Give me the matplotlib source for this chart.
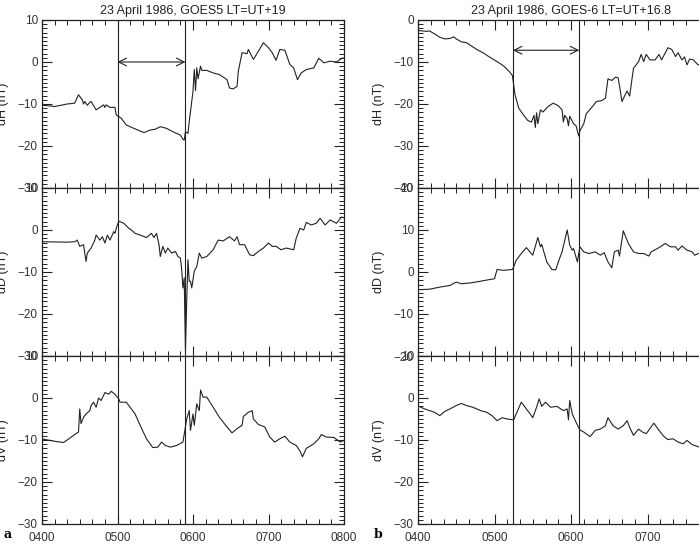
import matplotlib
matplotlib.use("Agg")
import matplotlib.pyplot as plt
from matplotlib.ticker import MultipleLocator, FixedLocator

plt.rcParams['font.family'] = ['Liberation Sans', 'DejaVu Sans']

# minutes after 0400 UT, values in nT
# --- panel a: GOES5 ---
a_dh_t = [1, 10, 20, 26, 29, 32, 33, 34, 36, 38, 39, 41, 43, 46, 49, 50, 51, 54, 58, 59,
          63, 67, 73, 81, 86, 90, 94, 99, 104, 110, 112, 113, 114, 116, 117, 118, 120, 121,
          122, 123, 124, 126, 127, 131, 136, 141, 147, 149, 152, 155, 156, 159, 163, 164,
          168, 172, 176, 180, 183, 186, 189, 193, 197, 200, 203, 206, 210, 216, 220, 224,
          229, 234, 239]
a_dh_v = [-10.3, -10.6, -10.0, -9.8, -7.8, -9.0, -10.0, -9.4, -10.3, -9.6, -9.4, -10.4, -11.4,
          -10.8, -10.2, -10.8, -10.2, -10.8, -10.8, -12.6, -13.4, -15.0, -15.8, -16.8, -16.2,
          -16.0, -15.4, -15.8, -16.6, -17.4, -18.4, -18.6, -16.6, -17.0, -14.2, -11.8, -7.0,
          -1.8, -6.8, -1.4, -4.0, -1.0, -2.0, -2.0, -2.6, -3.0, -4.2, -6.2, -6.4, -5.8, -2.2,
          2.2, 2.0, 3.0, 0.6, 2.6, 4.6, 3.4, 2.2, 0.4, 3.0, 2.8, -0.6, -1.4, -4.2, -2.6, -1.8,
          -1.4, 0.9, -0.2, 0.2, 0.0, 1.0]

a_dd_t = [1, 20, 26, 28, 30, 33, 35, 36, 39, 42, 43, 46, 48, 50, 52, 54, 57, 58, 59, 61, 65,
          69, 71, 74, 78, 83, 87, 89, 91, 93, 94, 96, 98, 100, 103, 106, 108, 110, 111, 112,
          113, 114, 115, 116, 117, 118, 119, 121, 123, 125, 127, 131, 136, 140, 144, 149, 153,
          155, 157, 161, 165, 168, 172, 176, 180, 183, 186, 190, 194, 200, 202, 205, 208, 210,
          214, 218, 221, 225, 229, 234, 238, 240]
a_dd_v = [-2.8, -2.9, -2.8, -2.4, -3.9, -3.5, -7.5, -5.5, -4.3, -2.4, -1.2, -2.4, -1.6, -3.1,
          -1.2, -2.4, -0.4, -0.8, 0.4, 2.1, 1.6, 0.4, 0.0, -0.8, -1.2, -1.8, -0.8, -1.8, -0.8,
          -3.5, -6.3, -3.9, -5.5, -4.3, -5.5, -5.1, -6.3, -6.7, -9.4, -13.8, -11.4, -28.7, -16.9,
          -7.1, -12.2, -12.2, -13.8, -9.8, -8.7, -5.5, -6.7, -6.3, -4.7, -2.4, -2.6, -1.6, -2.6,
          -1.6, -3.5, -3.5, -5.9, -6.1, -5.1, -4.3, -3.1, -3.9, -3.9, -4.7, -4.3, -4.7, -2.0,
          0.4, 0.0, 1.8, 1.2, 1.6, 2.8, 1.2, 2.4, 1.6, 3.1, 2.9]

a_dv_t = [1, 10, 17, 21, 25, 29, 30, 31, 33, 35, 38, 39, 41, 43, 45, 47, 50, 53, 55, 58, 61,
          62, 67, 71, 74, 78, 83, 88, 92, 95, 98, 102, 107, 112, 115, 117, 118, 120, 121, 123,
          125, 126, 128, 131, 136, 141, 147, 151, 155, 159, 160, 164, 167, 168, 172, 177, 181,
          185, 189, 193, 197, 202, 205, 207, 210, 216, 220, 222, 226, 232, 237, 240]
a_dv_v = [-9.8, -10.3, -10.6, -9.8, -8.9, -8.1, -2.6, -6.1, -4.6, -3.8, -3.0, -1.8, -1.0, -2.2,
          0.0, -0.6, 1.3, 0.9, 1.6, 0.9, -0.2, -1.0, -1.0, -2.6, -3.8, -6.5, -9.7, -11.8, -11.7,
          -10.5, -11.3, -11.7, -11.3, -10.5, -5.0, -3.0, -7.7, -3.8, -6.5, -1.4, -3.0, 1.9, 0.2,
          0.2, -2.2, -4.6, -6.9, -8.3, -7.3, -6.5, -4.4, -3.4, -3.0, -5.0, -6.3, -6.9, -9.3,
          -10.5, -9.7, -9.1, -10.5, -11.3, -12.6, -14.0, -12.0, -10.9, -9.7, -8.7, -9.3, -9.4,
          -10.5, -10.1]

# --- panel b: GOES-6 ---
b_dh_t = [0, 7, 9, 13, 17, 21, 25, 28, 30, 34, 38, 42, 46, 51, 56, 62, 67, 72, 74, 75, 76, 79,
          83, 86, 89, 91, 92, 93, 94, 96, 98, 102, 106, 110, 113, 114, 115, 117, 118, 119, 122,
          124, 126, 127, 130, 132, 136, 140, 144, 147, 149, 152, 155, 157, 160, 162, 164, 166,
          169, 173, 175, 177, 179, 182, 186, 189, 191, 194, 196, 199, 202, 204, 207, 209, 211,
          213, 216, 219, 222, 226]
b_dh_v = [-2.5, -2.7, -2.6, -3.3, -4.1, -4.5, -4.4, -4.0, -4.5, -5.2, -5.4, -6.2, -7.0, -7.8,
          -8.8, -9.9, -10.9, -12.4, -13.2, -15.3, -17.7, -21.0, -22.7, -23.9, -24.3, -22.7,
          -25.6, -22.1, -24.7, -21.4, -21.9, -20.6, -19.8, -20.4, -21.4, -24.3, -22.7, -23.5,
          -25.2, -22.9, -24.7, -25.2, -27.6, -26.4, -24.7, -22.3, -20.9, -19.4, -19.2, -18.6,
          -14.0, -14.4, -13.6, -13.8, -19.4, -18.1, -16.9, -18.1, -11.5, -9.9, -8.2, -9.9,
          -8.2, -9.5, -9.5, -8.2, -9.5, -7.8, -6.6, -7.0, -8.7, -7.8, -9.5, -8.8, -10.7, -9.3,
          -9.5, -10.5, -11.0, -10.6]

b_dd_t = [2, 9, 17, 25, 30, 34, 41, 49, 56, 60, 62, 67, 74, 75, 77, 81, 85, 90, 94, 96, 97,
          101, 105, 108, 111, 113, 117, 119, 121, 122, 125, 127, 130, 134, 139, 143, 146, 149,
          152, 154, 157, 158, 161, 165, 169, 173, 177, 181, 183, 189, 194, 198, 202, 204, 207,
          211, 215, 217, 220, 226]
b_dd_v = [-4.2, -4.1, -3.6, -3.2, -2.4, -2.8, -2.6, -2.2, -1.8, -1.6, 0.6, 0.4, 0.6, 1.2, 2.8,
          4.4, 5.8, 4.0, 8.2, 6.0, 6.6, 2.4, 0.6, 0.5, 3.2, 4.8, 10.0, 6.4, 5.2, 5.6, 2.4, 6.0,
          4.8, 4.4, 4.8, 4.0, 4.6, 2.4, 1.0, 4.8, 5.2, 3.8, 9.8, 6.8, 4.8, 4.4, 4.4, 3.8, 4.8,
          5.8, 6.8, 6.0, 6.0, 5.2, 6.2, 5.2, 4.8, 4.0, 4.4, 4.6]

b_dv_t = [2, 7, 13, 17, 21, 25, 30, 34, 38, 43, 49, 54, 58, 62, 66, 70, 75, 77, 81, 84, 88, 90,
          93, 95, 97, 100, 104, 109, 114, 117, 118, 119, 121, 124, 127, 130, 135, 139, 143, 147,
          149, 153, 157, 161, 164, 166, 169, 173, 176, 179, 185, 189, 193, 196, 200, 204, 208,
          211, 215, 219, 222, 226]
b_dv_v = [-2.2, -2.8, -3.4, -4.2, -3.2, -2.6, -1.8, -1.3, -1.8, -2.2, -3.0, -3.4, -4.2, -5.4,
          -4.7, -5.0, -5.2, -3.8, -1.0, -2.2, -3.8, -4.7, -2.2, -0.2, -2.0, -1.0, -2.2, -2.0,
          -3.0, -2.6, -5.2, -0.6, -3.8, -5.8, -7.6, -8.1, -9.2, -7.7, -7.4, -6.6, -4.7, -6.6,
          -7.4, -6.6, -5.4, -7.0, -8.9, -7.4, -8.1, -8.5, -6.0, -7.7, -9.2, -9.9, -9.7, -10.5,
          -10.9, -10.1, -11.1, -11.5, -11.9, -12.2]

# event markers (minutes after 0400) and arrow heights
a_lines = [60, 114]
b_lines = [74.5, 126.5]
a_arrow_y = 0
b_arrow_y = -7.2

titles = ["23 April 1986, GOES5 LT=UT+19", "23 April 1986, GOES-6 LT=UT+16.8"]
ylabels = ["dH (nT)", "dD (nT)", "dV (nT)"]
xtick_labels = [["0400", "0500", "0600", "0700", "0800"],
                ["0400", "0500", "0600", "0700", ""]]
a_ylims = [(-30, 10), (-30, 10), (-30, 10)]
b_ylims = [(-40, 0), (-20, 20), (-30, 10)]

ink = "#222222"
W, H = 699, 548
fig = plt.figure(figsize=(W / 100, H / 100), dpi=100)

col_left = [42, 418]
col_width = [302, 306]
row_top = [20, 188, 356]
row_h = 168

columns = [
    ([(a_dh_t, a_dh_v), (a_dd_t, a_dd_v), (a_dv_t, a_dv_v)], a_ylims, a_lines, a_arrow_y),
    ([(b_dh_t, b_dh_v), (b_dd_t, b_dd_v), (b_dv_t, b_dv_v)], b_ylims, b_lines, b_arrow_y),
]

for c, (series, ylims, vlines, arrow_y) in enumerate(columns):
    for r in range(3):
        ax = fig.add_axes([col_left[c] / W, 1 - (row_top[r] + row_h) / H,
                           col_width[c] / W, row_h / H])
        t, v = series[r]
        ax.plot([4 + m / 60 for m in t], v, color=ink, lw=0.8)
        for m in vlines:
            ax.axvline(4 + m / 60, color=ink, lw=0.8)
        ax.set_xlim(4, 8)
        ax.set_ylim(*ylims[r])
        ax.xaxis.set_major_locator(FixedLocator([4, 5, 6, 7, 8]))
        ax.xaxis.set_minor_locator(MultipleLocator(1 / 6))
        ax.yaxis.set_major_locator(MultipleLocator(10))
        ax.yaxis.set_minor_locator(MultipleLocator(1))
        ax.tick_params(which='both', direction='in', top=True, right=True, colors=ink,
                       labelsize=8.5, labelcolor="#333333")
        ax.tick_params(which='major', length=7, width=0.8)
        ax.tick_params(which='minor', length=3.5, width=0.7)
        ax.tick_params(axis='x', pad=6)
        ax.tick_params(axis='y', pad=3)
        for s in ax.spines.values():
            s.set_linewidth(0.9)
            s.set_color(ink)
        if r == 2:
            ax.set_xticklabels(xtick_labels[c])
        else:
            ax.set_xticklabels([])
        ax.set_ylabel(ylabels[r], fontsize=9, labelpad=6, color="#222222")
        if r == 0:
            ax.set_title(titles[c], fontsize=9, pad=4, color="#222222")
            ax.annotate("", xy=(4 + vlines[0] / 60, arrow_y),
                        xytext=(4 + vlines[1] / 60, arrow_y),
                        arrowprops=dict(arrowstyle='<->', color=ink, lw=0.8,
                                        shrinkA=0, shrinkB=0,
                                        mutation_scale=14))

fig.text(3 / W, 1 - 538 / H, "a", family="DejaVu Serif", fontweight="bold", fontsize=9)
fig.text(374 / W, 1 - 538 / H, "b", family="DejaVu Serif", fontweight="bold", fontsize=9)

fig.savefig("out.png", dpi=100)
